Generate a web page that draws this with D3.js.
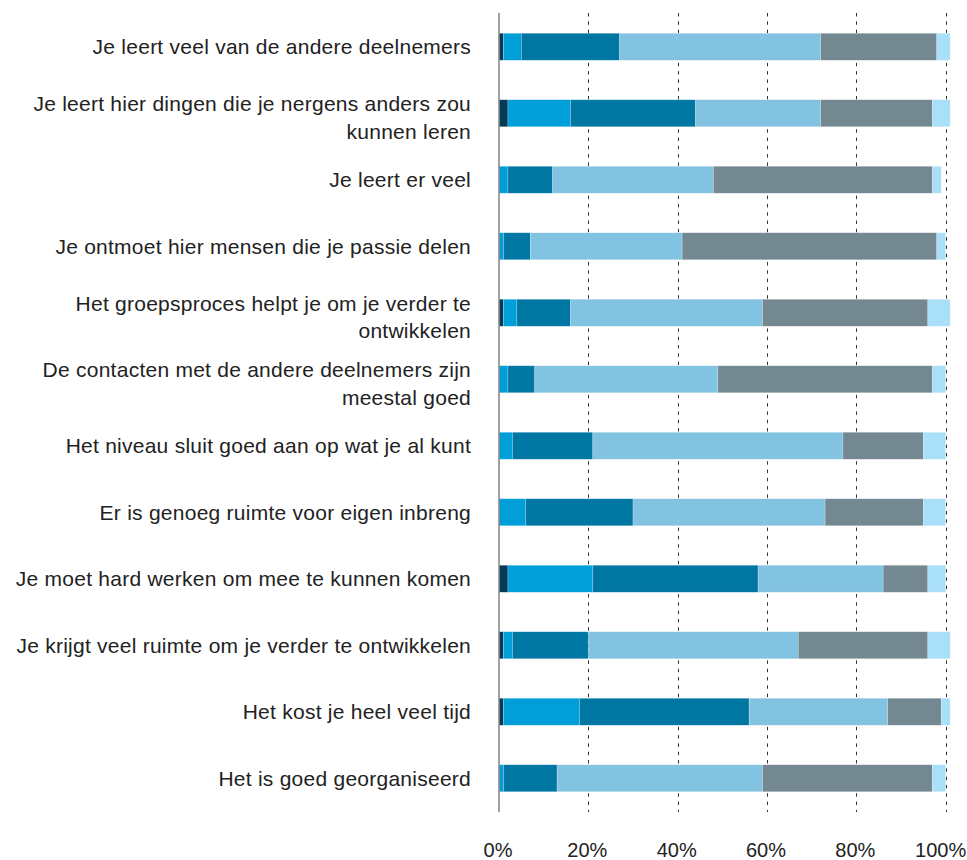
<!DOCTYPE html>
<html>
<head>
<meta charset="utf-8">
<script src="https://cdn.jsdelivr.net/npm/d3@7"></script>
<style>
  html, body { margin: 0; padding: 0; background: #fff; }
  svg { display: block; }
  text { font-family: "Liberation Sans", Arial, sans-serif; fill: #222; }
</style>
</head>
<body>
<svg id="chart" width="967" height="860"></svg>
<script>
const categories = [
  "Je leert veel van de andere deelnemers",
  "Je leert hier dingen die je nergens anders zou\nkunnen leren",
  "Je leert er veel",
  "Je ontmoet hier mensen die je passie delen",
  "Het groepsproces helpt je om je verder te\nontwikkelen",
  "De contacten met de andere deelnemers zijn\nmeestal goed",
  "Het niveau sluit goed aan op wat je al kunt",
  "Er is genoeg ruimte voor eigen inbreng",
  "Je moet hard werken om mee te kunnen komen",
  "Je krijgt veel ruimte om je verder te ontwikkelen",
  "Het kost je heel veel tijd",
  "Het is goed georganiseerd"
];
const seriesNames = ["s1", "s2", "s3", "s4", "s5", "s6"];
const s1 = [1, 2, 0, 0, 1, 0, 0, 0, 2, 1, 1, 0];
const s2 = [4, 14, 2, 1, 3, 2, 3, 6, 19, 2, 17, 1];
const s3 = [22, 28, 10, 6, 12, 6, 18, 24, 37, 17, 38, 12];
const s4 = [45, 28, 36, 34, 43, 41, 56, 43, 28, 47, 31, 46];
const s5 = [26, 25, 49, 57, 37, 48, 18, 22, 10, 29, 12, 38];
const s6 = [3, 4, 2, 2, 5, 3, 5, 5, 4, 5, 2, 3];
const tickValues = [0, 20, 40, 60, 80, 100];
const tickLabels = ["0%", "20%", "40%", "60%", "80%", "100%"];
const colors = ["#033a55", "#009fda", "#0077a3", "#82c3e1", "#738891", "#aadff9"];

const rows = categories.map((c, i) => ({
  cat: c, s1: s1[i], s2: s2[i], s3: s3[i], s4: s4[i], s5: s5[i], s6: s6[i]
}));

const svg = d3.select("#chart");
const x = d3.scaleLinear().domain([0, 100]).range([499, 945.7]);
const y = d3.scaleBand().domain(categories).range([13, 812])
  .paddingInner(0.594).paddingOuter(0.3045);

// gridlines
svg.append("g").selectAll("line")
  .data(tickValues.filter(d => d > 0))
  .join("line")
  .attr("x1", d => Math.round(x(d)) + 0.5).attr("x2", d => Math.round(x(d)) + 0.5)
  .attr("y1", 13).attr("y2", 812)
  .attr("stroke", "#333").attr("stroke-width", 1)
  .attr("stroke-dasharray", "3.5,4.8");

// bars
const stack = d3.stack().keys(seriesNames)(rows);
svg.append("g").selectAll("g")
  .data(stack)
  .join("g")
  .attr("fill", (d, i) => colors[i])
  .selectAll("rect")
  .data(d => d)
  .join("rect")
  .attr("x", d => x(d[0]))
  .attr("width", d => Math.max(0, x(d[1]) - x(d[0])))
  .attr("y", d => y(d.data.cat))
  .attr("height", y.bandwidth())
  .attr("stroke", "#ffffff").attr("stroke-opacity", 0.35).attr("stroke-width", 0.6);

// axis line at 0
svg.append("line")
  .attr("x1", x(0)).attr("x2", x(0))
  .attr("y1", 13).attr("y2", 812)
  .attr("stroke", "#8a8a8a").attr("stroke-width", 1.6);

// category labels
const labels = svg.append("g").selectAll("text")
  .data(categories)
  .join("text")
  .attr("text-anchor", "end")
  .attr("font-size", 21)
  .attr("letter-spacing", 0.25)
  .attr("x", 471);
labels.each(function(d) {
  const lines = d.split("\n");
  const cy = y(d) + y.bandwidth() / 2;
  const t = d3.select(this);
  if (lines.length === 1) {
    t.append("tspan").attr("x", 471).attr("y", cy + 7.5).text(lines[0]);
  } else {
    t.append("tspan").attr("x", 471).attr("y", cy - 2).text(lines[0]);
    t.append("tspan").attr("x", 471).attr("y", cy + 25.5).text(lines[1]);
  }
});

// x tick labels
svg.append("g").selectAll("text")
  .data(tickValues)
  .join("text")
  .attr("text-anchor", "middle")
  .attr("font-size", 20)
  .attr("x", d => x(d) - (d === 100 ? 5 : 1))
  .attr("y", 857)
  .text((d, i) => tickLabels[i]);
</script>
</body>
</html>
